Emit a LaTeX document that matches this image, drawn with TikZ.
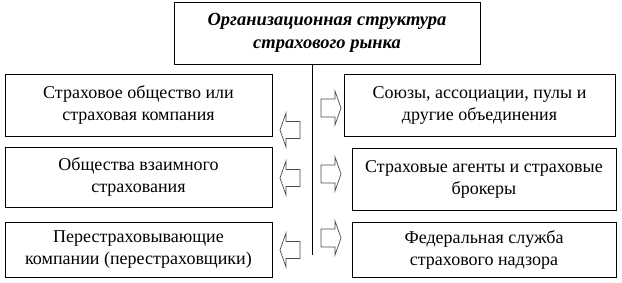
\documentclass[tikz,border=0pt]{standalone}
\usepackage{fontspec}
\setmainfont{Liberation Serif}
\begin{document}
\begin{tikzpicture}[x=1pt,y=-1pt,
  box/.style={draw=black, line width=0.9pt, rectangle, inner sep=0pt, align=center,
    font=\fontsize{18}{22}\selectfont},
  titlebox/.style={box, font=\fontsize{18.5}{23}\selectfont\bfseries\itshape},
  blockarrow/.style={draw=black!70, line width=0.7pt, fill=white, line join=miter}]
\useasboundingbox (0,0) rectangle (622,283);
% title
\node[titlebox, minimum width=306pt, minimum height=62pt] (title) at (327,33)
  {Организационная структура\\страхового рынка};
% left boxes
\node[box, minimum width=267pt, minimum height=62pt] (l1) at (138.5,105)
  {Страховое общество или\\страховая компания};
\node[box, minimum width=267pt, minimum height=60pt] (l2) at (138.5,177)
  {Общества взаимного\\страхования};
\node[box, minimum width=267pt, minimum height=55pt] (l3) at (138.5,249.5)
  {Перестраховывающие\\компании (перестраховщики)};
% right boxes
\node[box, minimum width=271pt, minimum height=62pt] (r1) at (479.5,105)
  {Союзы, ассоциации, пулы и\\другие объединения};
\node[box, minimum width=264pt, minimum height=62pt] (r2) at (484,179)
  {Страховые агенты и страховые\\брокеры};
\node[box, minimum width=264pt, minimum height=55pt] (r3) at (484,249.5)
  {Федеральная служба\\страхового надзора};
% trunk line
\coordinate (vbot) at (312,255);
\draw[line width=0.9pt] (title.south -| vbot) -- (vbot);
% left block arrows (pointing left)
\foreach \cy in {130,178,250}{
  \draw[blockarrow] (300,\cy-8.5) -- (286,\cy-8.5) -- (286,\cy-17) -- (280,\cy)
    -- (286,\cy+17) -- (286,\cy+8.5) -- (300,\cy+8.5) -- cycle;
}
% right block arrows (pointing right)
\foreach \cy in {108,174,238}{
  \draw[blockarrow] (321,\cy-9) -- (335,\cy-9) -- (335,\cy-17) -- (341,\cy)
    -- (335,\cy+17) -- (335,\cy+9) -- (321,\cy+9) -- cycle;
}
\end{tikzpicture}
\end{document}
